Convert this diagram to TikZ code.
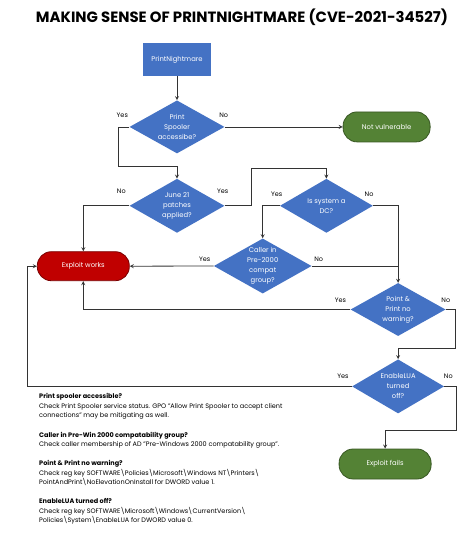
\documentclass[tikz,border=0pt]{standalone}
\usepackage{fontspec}
\setmainfont{Poppins}
\usetikzlibrary{positioning,arrows,shapes,shapes.geometric}
\definecolor{nodeblue}{HTML}{4472C4}
\definecolor{worksred}{HTML}{C00000}
\definecolor{worksedge}{HTML}{7A0000}
\definecolor{failgreen}{HTML}{548235}
\definecolor{failedge}{HTML}{385723}
\definecolor{linegrey}{HTML}{333333}
\newcommand{\boxfont}{\fontsize{6.8}{10}\selectfont}
\tikzstyle{procbox}=[rectangle, fill=nodeblue, text=white, minimum width=68pt, minimum height=33pt, inner sep=0pt, font=\boxfont]
\tikzstyle{decbox}=[diamond, aspect=1.8, fill=nodeblue, text=white, minimum width=95pt, minimum height=53pt, inner sep=0pt, align=center, font=\boxfont]
\tikzstyle{badbox}=[rectangle, rounded corners=14pt, fill=worksred, draw=worksedge, thick, text=white, minimum width=92pt, minimum height=29pt, font=\boxfont]
\tikzstyle{goodbox}=[rectangle, rounded corners=14pt, fill=failgreen, draw=failedge, thick, text=white, minimum width=87pt, minimum height=30pt, font=\boxfont]
\tikzstyle{yn}=[inner sep=0pt, font=\fontsize{6.5}{8}\selectfont]
\tikzstyle{line}=[-stealth, line width=0.8pt, linegrey]
\tikzstyle{sline}=[-, line width=0.8pt, linegrey]

\begin{document}
\begin{tikzpicture}[node distance=0mm]
\useasboundingbox (0,0) rectangle (474pt,-536pt);

    \node (title) at (242pt,-17pt) {\fontsize{14.9}{17}\selectfont\bfseries MAKING SENSE OF PRINTNIGHTMARE (CVE-2021-34527)};

    \node (pn) [procbox] at (177pt,-59.5pt) {PrintNightmare};
    \node (spool) [decbox, below=24pt of pn] {Print\\Spooler\\accessibe?};
    \node (notvuln) [goodbox, right=118pt of spool] {Not vulnerable};
    \node (june) [decbox, below=25pt of spool, minimum height=54pt] {June 21\\patches\\applied?};
    \node (dc) [decbox, right=55pt of june, minimum width=93pt, minimum height=54pt] {Is system a\\DC?};

% Exploit works
    \coordinate [left=46pt of june.west] (juneno);
    \node (works) [badbox, below=45.5pt of juneno] {Exploit works};

% Caller / Point & Print / EnableLUA
    \coordinate [left=17pt of dc.west] (dcyes);
    \node (caller) [decbox, below=32.5pt of dcyes, minimum width=93pt, minimum height=55pt] {Caller in\\Pre-2000\\compat\\group?};
    \coordinate [right=25pt of dc.east] (dcno);
    \node (pp) [decbox, below=77pt of dcno] {Point \&\\Print no\\warning?};
    \node (lua) [decbox, below=23pt of pp, minimum width=92pt, minimum height=54pt] {EnableLUA\\turned\\off?};
    \node (fails) [goodbox, below=35pt of lua, xshift=-13pt, minimum width=92pt] {Exploit fails};

%%%% Notes
    \node (notes) [anchor=north west, align=left, inner sep=0pt, font=\fontsize{6.5}{9.54}\selectfont] at (39pt,-393.5pt)
    {\textbf{Print spooler accessible?}\\
     Check Print Spooler service status. GPO "Allow Print Spooler to accept client\\
     connections" may be mitigating as well.\\[9.54pt]
     \textbf{Caller in Pre-Win 2000 compatability group?}\\
     Check caller membership of AD "Pre-Windows 2000 compatability group".\\[9.54pt]
     \textbf{Point \& Print no warning?}\\
     Check reg key SOFTWARE\textbackslash Policies\textbackslash Microsoft\textbackslash Windows NT\textbackslash Printers\textbackslash\\
     PointAndPrint\textbackslash NoElevationOnInstall for DWORD value 1.\\[9.54pt]
     \textbf{EnableLUA turned off?}\\
     Check reg key SOFTWARE\textbackslash Microsoft\textbackslash Windows\textbackslash CurrentVersion\textbackslash\\
     Policies\textbackslash System\textbackslash EnableLUA for DWORD value 0.};

% connectors
\draw[line] (pn.south) -- (spool.north);
\draw[line] (spool.west) -- ++(-11pt,0) |- ([yshift=12pt]june.north) -- (june.north);
\draw[line] (spool.east) -- (notvuln.west);
\draw[line] (june.west) -| (works.north);
\draw[line] (june.east) -- ++(27pt,0) |- ([yshift=10pt]dc.north) -- (dc.north);
\draw[line] (dc.west) -| (caller.north);
\draw[line] (caller.west) -- (works.east);
\draw[sline] (caller.east) -- (caller.east -| pp.north);
\draw[line] (dc.east) -| (pp.north);
\draw[line] (pp.west) -| (works.south);
\draw[line] (pp.east) -- ++(10pt,0) |- ([yshift=11pt]lua.north) -- (lua.north);
\draw[line] (lua.west) -| ([xshift=-10pt]works.west) -- (works.west);
\draw[line] (lua.east) -- ++(12pt,0) |- ([yshift=18pt]fails.north) -- (fails.north);

% Yes / No
\node (spoolyes) [yn] at ([shift={(-7pt,12pt)}]spool.west) {Yes};
\node (spoolno) [yn] at ([shift={(-1pt,12pt)}]spool.east) {No};
\node (juneno2) [yn] at ([shift={(-8pt,15pt)}]june.west) {No};
\node (juneyes) [yn] at ([shift={(-2pt,15pt)}]june.east) {Yes};
\node (dcyes2) [yn] at ([shift={(-3pt,12pt)}]dc.west) {Yes};
\node (dcno2) [yn] at ([shift={(-4pt,12pt)}]dc.east) {No};
\node (calleryes) [yn] at ([shift={(-9pt,7pt)}]caller.west) {Yes};
\node (callerno) [yn] at ([shift={(7pt,7pt)}]caller.east) {No};
\node (ppyes) [yn] at ([shift={(-10pt,9pt)}]pp.west) {Yes};
\node (ppno) [yn] at ([shift={(0pt,9pt)}]pp.east) {No};
\node (luayes) [yn] at ([shift={(-9pt,10pt)}]lua.west) {Yes};
\node (luano) [yn] at ([shift={(4pt,10pt)}]lua.east) {No};

\end{tikzpicture}
\end{document}
